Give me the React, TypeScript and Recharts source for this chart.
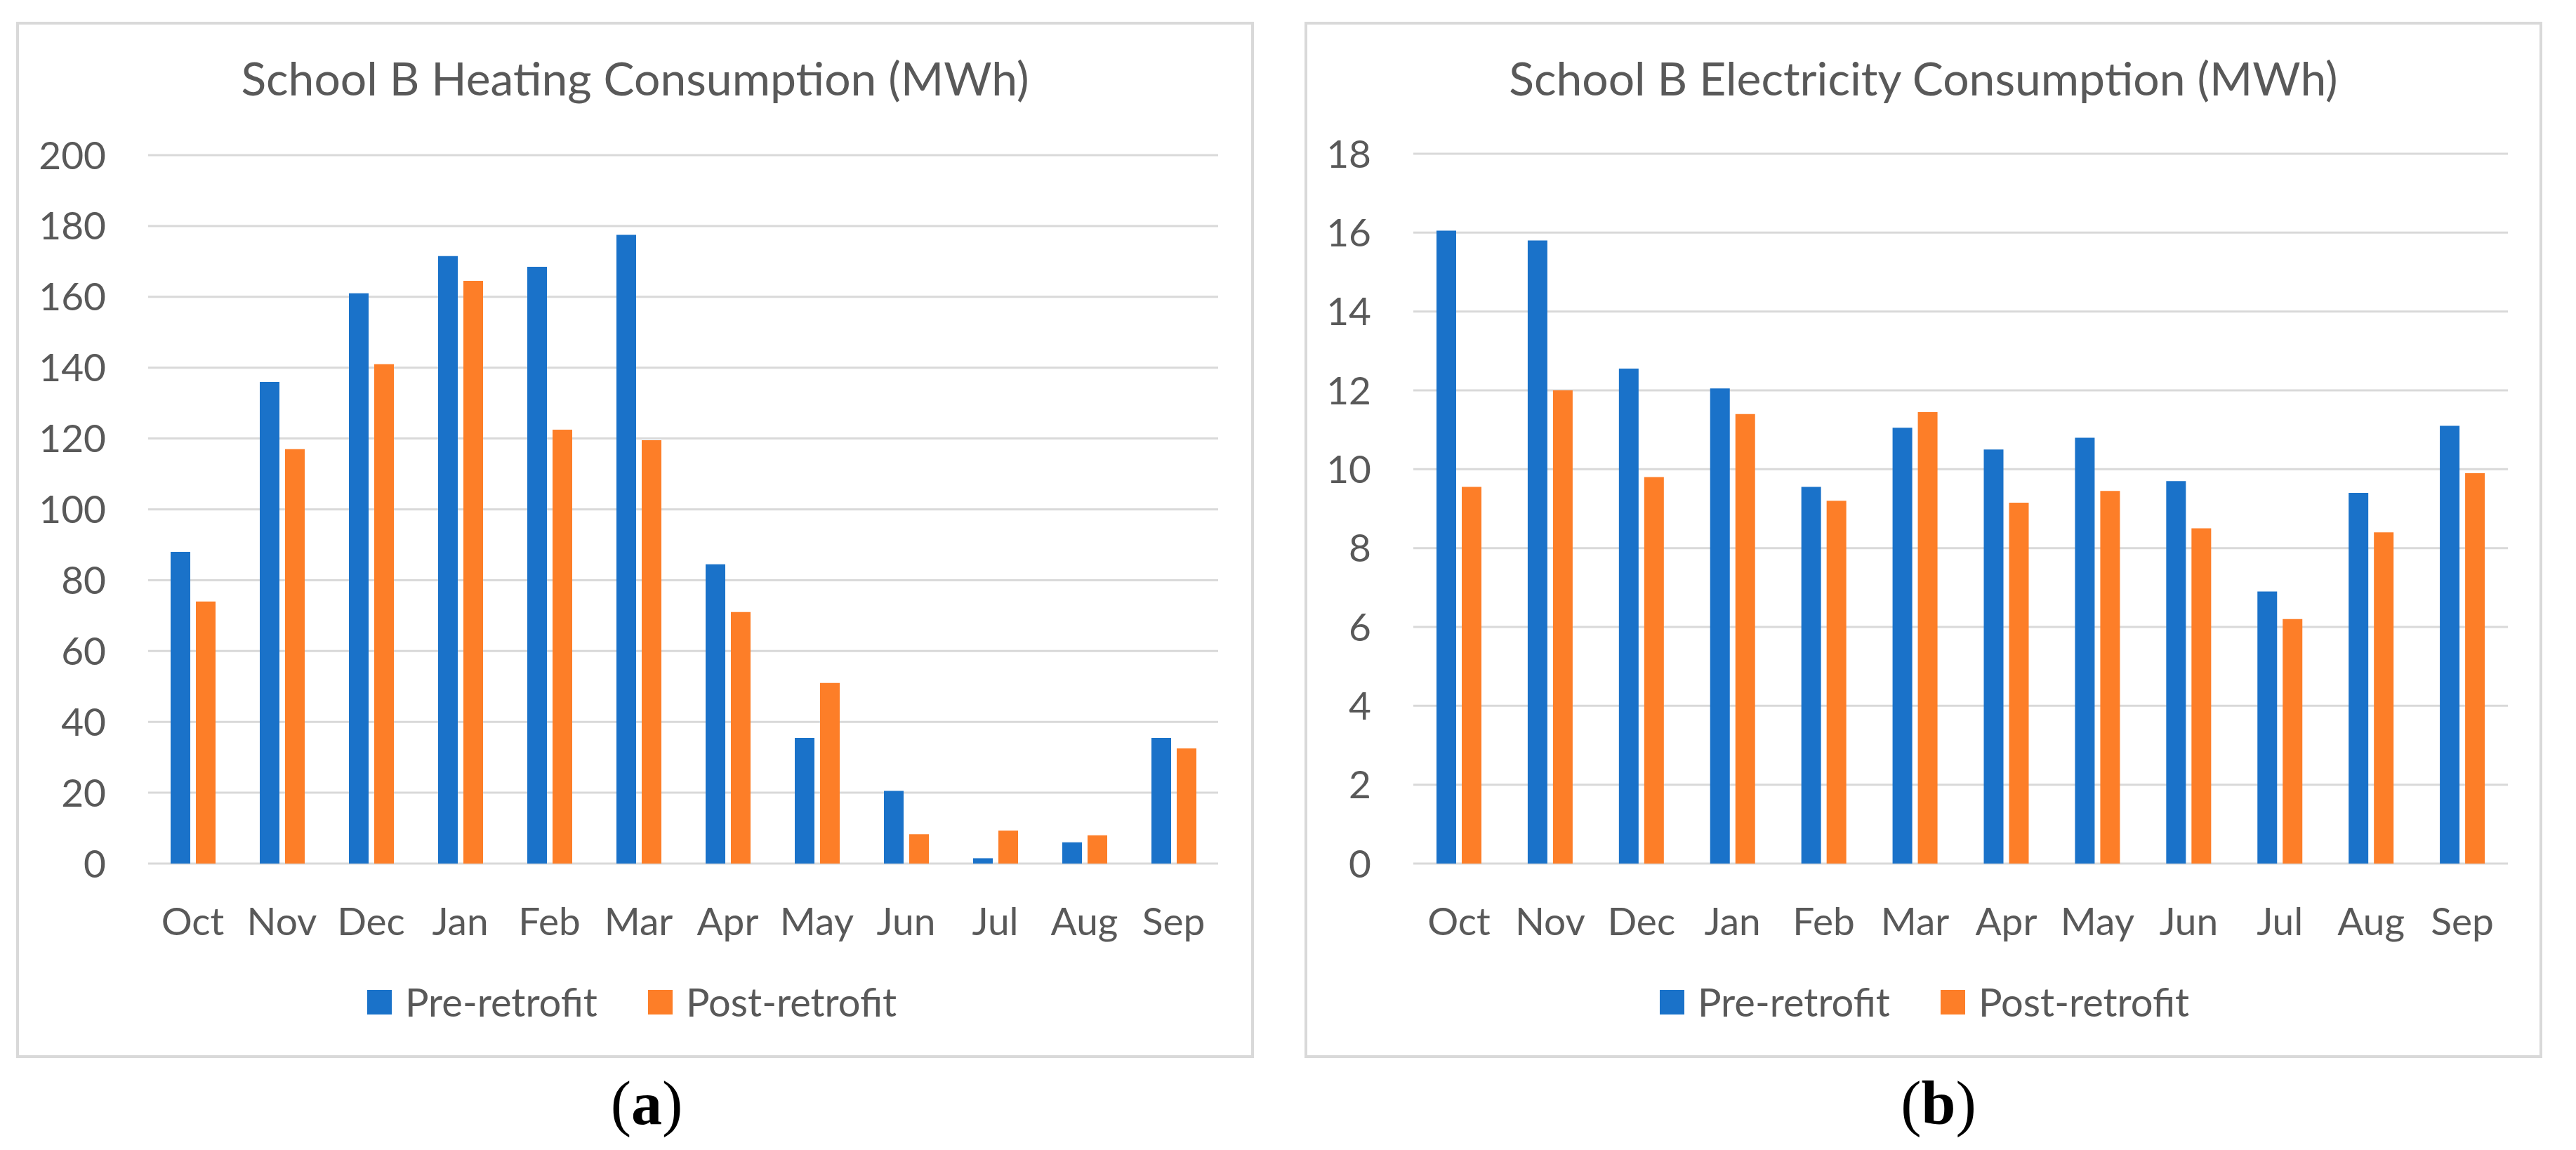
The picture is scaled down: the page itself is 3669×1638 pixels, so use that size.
import React from 'react';
import { BarChart, Bar, XAxis, YAxis, CartesianGrid, Legend } from 'recharts';

const months = ['Oct', 'Nov', 'Dec', 'Jan', 'Feb', 'Mar', 'Apr', 'May', 'Jun', 'Jul', 'Aug', 'Sep'];
const heatingPre = [88, 136, 161, 171.5, 168.5, 177.5, 84.5, 35.5, 20.5, 1.5, 6, 35.5];
const heatingPost = [74, 117, 141, 164.5, 122.5, 119.5, 71, 51, 8.3, 9.3, 8, 32.5];
const elecPre = [16.05, 15.8, 12.55, 12.05, 9.55, 11.05, 10.5, 10.8, 9.7, 6.9, 9.4, 11.1];
const elecPost = [9.55, 12.0, 9.8, 11.4, 9.2, 11.45, 9.15, 9.45, 8.5, 6.2, 8.4, 9.9];
const heatingTicks = [0, 20, 40, 60, 80, 100, 120, 140, 160, 180, 200];
const elecTicks = [0, 2, 4, 6, 8, 10, 12, 14, 16, 18];
const seriesNames = ['Pre-retrofit', 'Post-retrofit'];

const BLUE = '#1A72C9';
const ORANGE = '#FD7E28';
const TEXT = '#595959';
const GRID = '#D9D9D9';
const FONT = 'Lato, "Noto Sans", sans-serif';

const heatingData = months.map((m, i) => ({ month: m, pre: heatingPre[i], post: heatingPost[i] }));
const elecData = months.map((m, i) => ({ month: m, pre: elecPre[i], post: elecPost[i] }));

const PANEL_W = 1763;
const PANEL_H = 1476;

function LegendContent(props: any) {
  const payload = [...(props.payload || [])].sort(
    (a: any, b: any) => seriesNames.indexOf(a.value) - seriesNames.indexOf(b.value)
  );
  return (
    <div style={{ display: 'flex', alignItems: 'center', height: 56, fontFamily: FONT, fontSize: 56, color: TEXT, lineHeight: 1, whiteSpace: 'nowrap' }}>
      {payload.map((p: any, i: number) => (
        <div key={i} style={{ display: 'flex', alignItems: 'center', marginRight: i === 0 ? 72 : 0 }}>
          <div style={{ width: 35, height: 35, background: p.color, marginRight: 19 }} />
          <span>{p.value}</span>
        </div>
      ))}
    </div>
  );
}

function Panel(props: {
  left: number; title: string; data: any[]; ticks: number[]; max: number;
  plotLeft: number; plotRight: number; plotTop: number; legendLeft: number; label: string; labelLeft: number;
}) {
  const { left, title, data, ticks, max, plotLeft, plotRight, plotTop, legendLeft, label, labelLeft } = props;
  const xAxisH = 100;
  return (
    <>
      <div style={{ position: 'absolute', left, top: 31, width: PANEL_W, height: PANEL_H }}>
        <div style={{ position: 'absolute', left: 0, top: 0, width: PANEL_W, height: PANEL_H, border: `4px solid ${GRID}`, boxSizing: 'border-box', background: '#fff' }} />
        <div style={{ position: 'absolute', left: 0, top: 47, width: PANEL_W, textAlign: 'center', fontFamily: FONT, fontSize: 66, lineHeight: 1, color: TEXT, whiteSpace: 'nowrap' }}>
          {title}
        </div>
        <div style={{ position: 'absolute', left: 0, top: 0 }}>
          <BarChart
            width={PANEL_W}
            height={PANEL_H}
            data={data}
            margin={{ top: plotTop, right: plotRight, left: 0, bottom: 277 - xAxisH }}
            barSize={28}
            barGap={8}
          >
            <CartesianGrid vertical={false} stroke={GRID} strokeWidth={3} />
            <XAxis
              dataKey="month"
              axisLine={false}
              tickLine={false}
              tickSize={0}
              tickMargin={63}
              height={xAxisH}
              interval={0}
              tick={{ fill: TEXT, fontSize: 55, fontFamily: FONT }}
            />
            <YAxis
              domain={[0, max]}
              ticks={ticks}
              width={plotLeft}
              axisLine={false}
              tickLine={false}
              tickSize={0}
              tickMargin={60}
              interval={0}
              tick={{ fill: TEXT, fontSize: 55, fontFamily: FONT }}
            />
            <Legend
              verticalAlign="middle"
              align="center"
              layout="horizontal"
              itemSorter={null as any}
              wrapperStyle={{ top: 1368, left: legendLeft, width: 'auto' }}
              content={LegendContent}
            />
            <Bar dataKey="pre" name={seriesNames[0]} fill={BLUE} isAnimationActive={false} />
            <Bar dataKey="post" name={seriesNames[1]} fill={ORANGE} isAnimationActive={false} />
          </BarChart>
        </div>
      </div>
      <div style={{ position: 'absolute', left: labelLeft, top: 1528, width: 200, textAlign: 'center', fontFamily: '"Liberation Serif", "Times New Roman", serif', fontSize: 88, lineHeight: 1, color: '#000' }}>
        (<b>{label}</b>)
      </div>
    </>
  );
}

export default function App() {
  return (
    <div style={{ position: 'absolute', left: 0, top: 0, width: 3669, height: 1638, background: '#fff', overflow: 'hidden' }}>
      <Panel left={23} title="School B Heating Consumption (MWh)" data={heatingData} ticks={heatingTicks} max={200}
        plotLeft={188} plotRight={51} plotTop={190} legendLeft={500} label="a" labelLeft={821} />
      <Panel left={1858} title="School B Electricity Consumption (MWh)" data={elecData} ticks={elecTicks} max={18}
        plotLeft={155} plotRight={49} plotTop={188} legendLeft={506} label="b" labelLeft={2661} />
    </div>
  );
}
